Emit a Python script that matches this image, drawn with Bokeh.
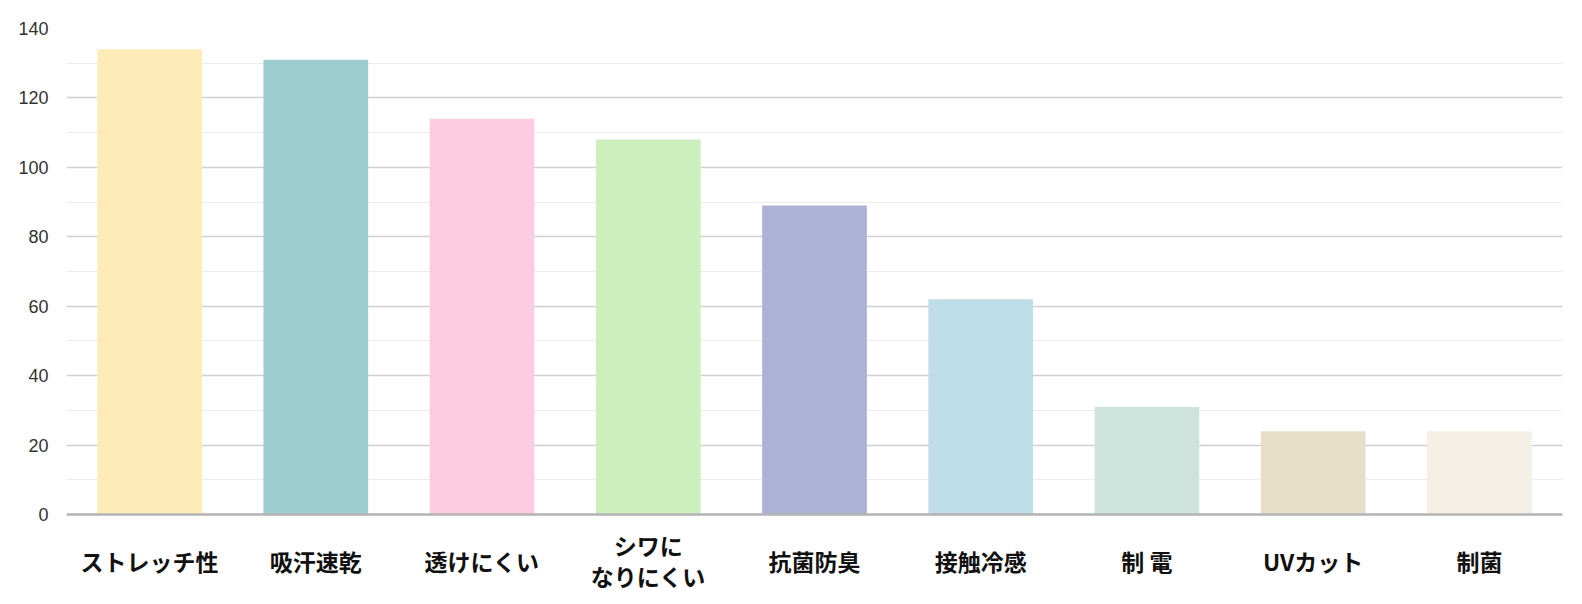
from bokeh.plotting import figure
from bokeh.models import ColumnDataSource, Range1d, FixedTicker, FactorRange, Span
from bokeh.core.properties import value
from bokeh.embed import file_html
from bokeh.resources import INLINE

categories = ["ストレッチ性", "吸汗速乾", "透けにくい", "シワに\nなりにくい", "抗菌防臭",
              "接触冷感", "制 電", "UVカット", "制菌"]
values = [134, 131, 114, 108, 89, 62, 31, 24, 24]
colors = ["#FDEBB8", "#9DCDD1", "#FCCDE0", "#CDEEBD", "#ADB1D6",
          "#C0DDEA", "#CCE4DC", "#E6DEC6", "#F6EFE6"]
major_ticks = [0, 20, 40, 60, 80, 100, 120, 140]
minor_ticks = [10, 30, 50, 70, 90, 110, 130]

src = ColumnDataSource(dict(cat=categories, val=values, color=colors,
                            base=[0] * len(categories)))

# frame: 486 px for the 0..140 value span, plus a strip below 0 for the labels
plot_px = 486
label_px = 86
y_min = -label_px * 140 / plot_px

p = figure(x_range=FactorRange(*categories, range_padding=0), y_range=Range1d(y_min, 140),
           frame_width=1496, frame_height=plot_px + label_px, output_backend="svg",
           toolbar_location=None,
           min_border_left=66, min_border_right=4, min_border_top=28, min_border_bottom=0)
p.outline_line_color = None
p.background_fill_color = "white"
p.border_fill_color = "white"

p.vbar(x="cat", top="val", bottom=0, width=0.63, source=src, fill_color="color", line_color=None)

ticker = FixedTicker(ticks=major_ticks, minor_ticks=minor_ticks)
p.yaxis.ticker = ticker
p.ygrid.ticker = ticker
p.ygrid.grid_line_color = "#d0d0d0"
p.ygrid.grid_line_width = 1.5
p.ygrid.minor_grid_line_color = "#ececec"
p.ygrid.minor_grid_line_width = 1
p.xgrid.grid_line_color = None

p.yaxis.axis_line_color = None
p.yaxis.major_tick_line_color = None
p.yaxis.minor_tick_line_color = None
p.yaxis.major_tick_out = 0
p.yaxis.minor_tick_out = 0
p.yaxis.major_label_text_font = "Liberation Sans"
p.yaxis.major_label_text_font_size = "18px"
p.yaxis.major_label_text_color = "#333333"
p.yaxis.major_label_standoff = 18

p.xaxis.visible = False

p.add_layout(Span(location=0, dimension="width", line_color="#b5b5b5", line_width=2.5))

p.text(x="cat", y="base", text="cat", source=src, y_offset=46,
       text_align="center", text_baseline="middle",
       text_font=value("Noto Sans CJK JP"), text_font_style="bold",
       text_font_size="23px", text_color="#111111", text_line_height=0.93)

open("out.html", "w").write(file_html(p, INLINE))
